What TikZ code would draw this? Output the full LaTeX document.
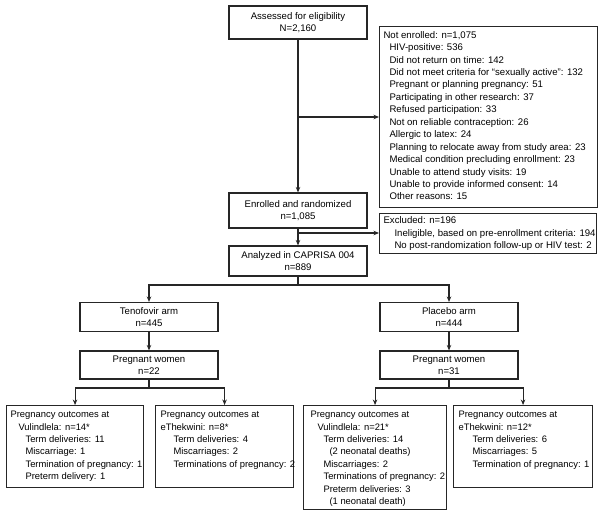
\documentclass[tikz,border=0pt]{standalone}
\usepackage{fontspec}
\setmainfont{Liberation Sans}
\usetikzlibrary{arrows.meta}
\begin{document}
\begin{tikzpicture}[x=1pt,y=-1pt,
  line width=1.1pt,
  cbox/.style={draw=black!85, minimum width=138pt, align=center, inner sep=0pt,
     font=\fontsize{9.6}{11.5}\selectfont},
  lbox/.style={draw=black!85, anchor=north west, inner sep=0pt},
  ltext/.style={anchor=north west, inner sep=0pt, align=left, font=\fontsize{9.6}{12.45}\selectfont},
  btext/.style={anchor=north west, inner sep=0pt, align=left, font=\fontsize{9.4}{12.4}\selectfont},
  arr/.style={draw=black!85, -{Stealth[length=5.5pt,width=4.5pt]}},
  ln/.style={draw=black!85}]
\useasboundingbox (0,0) rectangle (601,519);

% centre column
\node[cbox, minimum height=33pt] (assess) at (298,22.5) {Assessed for eligibility\\N=2,160};
\node[cbox, minimum height=35pt] (enrol) at (298,210.5) {Enrolled and randomized\\n=1,085};
\node[cbox, minimum height=30pt] (anal) at (298,261) {Analyzed in CAPRISA 004\\n=889};

% side boxes
\node[lbox, minimum width=218pt, minimum height=181pt] (ne) at (379,26) {};
\node[ltext] (net) at ([shift={(4,4.6)}]ne.north west) {Not enrolled: n=1,075\\
\hspace*{6pt}HIV-positive: 536\\
\hspace*{6pt}Did not return on time: 142\\
\hspace*{6pt}Did not meet criteria for ``sexually active'': 132\\
\hspace*{6pt}Pregnant or planning pregnancy: 51\\
\hspace*{6pt}Participating in other research: 37\\
\hspace*{6pt}Refused participation: 33\\
\hspace*{6pt}Not on reliable contraception: 26\\
\hspace*{6pt}Allergic to latex: 24\\
\hspace*{6pt}Planning to relocate away from study area: 23\\
\hspace*{6pt}Medical condition precluding enrollment: 23\\
\hspace*{6pt}Unable to attend study visits: 19\\
\hspace*{6pt}Unable to provide informed consent: 14\\
\hspace*{6pt}Other reasons: 15};

\node[lbox, minimum width=217pt, minimum height=40pt] (ex) at (379,213) {};
\node[ltext] (ext) at ([shift={(4,3.3)}]ex.north west) {Excluded: n=196\\
\hspace*{11pt}Ineligible, based on pre-enrollment criteria: 194\\
\hspace*{11pt}No post-randomization follow-up or HIV test: 2};

% arms
\node[cbox, minimum height=29pt] (teno) at (149,317) {Tenofovir arm\\n=445};
\node[cbox, minimum height=29pt] (plac) at (449,317) {Placebo arm\\n=444};
\node[cbox, minimum height=28pt] (pregT) at (149,365) {Pregnant women\\n=22};
\node[cbox, minimum height=28pt] (pregP) at (449,365) {Pregnant women\\n=31};

% outcome boxes
\node[lbox, minimum width=137pt, minimum height=82pt] (b1) at (6,405) {};
\node[btext] (b1t) at ([shift={(4,5.7)}]b1.north west) {Pregnancy outcomes at\\
\hspace*{8pt}Vulindlela: n=14*\\
\hspace*{15pt}Term deliveries: 11\\
\hspace*{15pt}Miscarriage: 1\\
\hspace*{15pt}Termination of pregnancy: 1\\
\hspace*{15pt}Preterm delivery: 1};

\node[lbox, minimum width=138pt, minimum height=82pt] (b2) at (155,405) {};
\node[btext] (b2t) at ([shift={(5,5.7)}]b2.north west) {Pregnancy outcomes at\\
eThekwini: n=8*\\
\hspace*{13pt}Term deliveries: 4\\
\hspace*{13pt}Miscarriages: 2\\
\hspace*{13pt}Terminations of pregnancy: 2};

\node[lbox, minimum width=143pt, minimum height=104pt] (b3) at (303,405) {};
\node[btext] (b3t) at ([shift={(7,5.7)}]b3.north west) {Pregnancy outcomes at\\
\hspace*{7pt}Vulindlela: n=21*\\
\hspace*{13pt}Term deliveries: 14\\
\hspace*{19pt}(2 neonatal deaths)\\
\hspace*{13pt}Miscarriages: 2\\
\hspace*{13pt}Terminations of pregnancy: 2\\
\hspace*{13pt}Preterm deliveries: 3\\
\hspace*{19pt}(1 neonatal death)};

\node[lbox, minimum width=139pt, minimum height=82pt] (b4) at (453,405) {};
\node[btext] (b4t) at ([shift={(5,5.7)}]b4.north west) {Pregnancy outcomes at\\
eThekwini: n=12*\\
\hspace*{14pt}Term deliveries: 6\\
\hspace*{14pt}Miscarriages: 5\\
\hspace*{14pt}Termination of pregnancy: 1};

% junctions
\coordinate (j1) at (298,117);
\coordinate (j2) at (298,233);
\coordinate (j3) at (298,285);
\coordinate (j4) at (149,388);
\coordinate (j5) at (449,388);

% connectors
\draw[arr] (assess.south) -- (enrol.north);
\draw[arr] (j1) -- (j1 -| ne.west);
\draw[arr] (enrol.south) -- (anal.north);
\draw[arr] (j2) -- (j2 -| ex.west);
\draw[ln] (anal.south) -- (j3);
\draw[arr] (j3) -| (teno.north);
\draw[arr] (j3) -| (plac.north);
\draw[arr] (teno.south) -- (pregT.north);
\draw[arr] (plac.south) -- (pregP.north);
\draw[ln] (pregT.south) -- (j4);
\draw[ln] (pregP.south) -- (j5);
\draw[arr] (j4) -| (b1.north);
\draw[arr] (j4) -| (b2.north);
\draw[arr] (j5) -| (b3.north);
\draw[arr] (j5) -| (b4.north);
\end{tikzpicture}
\end{document}
